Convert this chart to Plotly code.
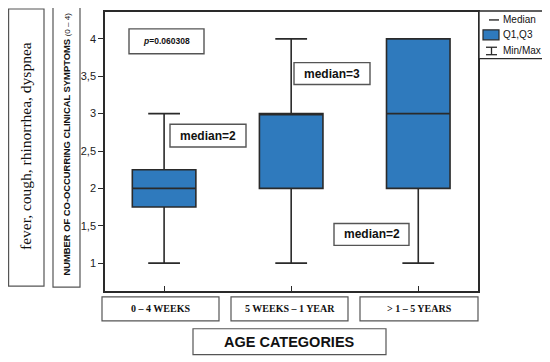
import plotly.graph_objects as go

categories = ["0 – 4 WEEKS", "5 WEEKS – 1 YEAR", "> 1 – 5 YEARS"]
mins = [1, 1, 1]
q1s = [1.75, 2, 2]
medians = [2, 3, 3]
q3s = [2.25, 3, 4]
maxs = [3, 4, 4]
ytick_vals = [1, 1.5, 2, 2.5, 3, 3.5, 4]
ytick_text = ["1", "1,5", "2", "2,5", "3", "3,5", "4"]

# page body has an 8px margin, so the figure is drawn 8px smaller and shifted
OFF = 8
W, H = 550 - OFF, 362 - OFF
L, R, T, B = 105, 478, 10, 291  # reference pixel coordinates of plot area
PW, PH = R - L, B - T

def px(x):
    return (x - L) / PW

def py(y):
    return (B - y) / PH

BLUE = "#2f7abd"
DARK = "#2a2a2a"

fig = go.Figure()
fig.add_trace(go.Box(
    x=list(range(len(categories))),
    q1=q1s, median=medians, q3=q3s,
    lowerfence=mins, upperfence=maxs,
    width=0.5, whiskerwidth=0.5,
    fillcolor=BLUE,
    line=dict(color=DARK, width=1.6),
    boxpoints=False, hoverinfo="skip", showlegend=False,
))

shapes = []
annotations = []

def box(x0, y0, x1, y1, width=1.2, color="#555"):
    shapes.append(dict(type="rect", xref="paper", yref="paper",
                       x0=px(x0), x1=px(x1), y0=py(y1), y1=py(y0),
                       line=dict(color=color, width=width), fillcolor="white", layer="above"))

def text(x, y, s, size, family="Liberation Sans, Arial", angle=0, color="#111"):
    annotations.append(dict(xref="paper", yref="paper", x=px(x), y=py(y), text=s,
                            showarrow=False, xanchor="center", yanchor="middle",
                            textangle=angle, font=dict(size=size, family=family, color=color)))

# left axis title boxes
box(8.6, 7, 44, 286)
text(25.5, 145.5, "fever, cough, rhinorrhea, dyspnea", 15.5, family="Liberation Serif, DejaVu Serif, serif", angle=-90)
box(53, 5, 80, 287)
text(66.5, 143, "<b>NUMBER OF CO-OCCURRING CLINICAL SYMPTOMS</b> <span style='font-size:8px'>(0 – 4)</span>", 9.4, angle=-90)

# category label boxes
cat_boxes = [(102, 219), (231, 348), (360, 478)]
for (x0, x1), c in zip(cat_boxes, categories):
    box(x0, 297, x1, 321)
    text((x0 + x1) / 2, 309, "<b>" + c + "</b>", 10, family="Liberation Serif, DejaVu Serif, serif")

box(193, 329, 386, 355)
text(289.5, 342, "<b>AGE CATEGORIES</b>", 14.5)

# p value box
box(129, 27, 204, 52, width=1.4)
text(166.5, 39.5, "<b><i>p</i>=0.060308</b>", 8.5)

# median labels
box(170, 123, 246, 146, width=1.4)
text(208, 134.5, "<b>median=2</b>", 12)
box(294, 61, 370, 83, width=1.4)
text(332, 72, "<b>median=3</b>", 12)
box(334, 223, 409, 245, width=1.4)
text(371.5, 234, "<b>median=2</b>", 12)

# legend
shapes.append(dict(type="rect", xref="paper", yref="paper",
                   x0=px(479), x1=px(543), y0=py(57), y1=py(9),
                   line=dict(color=DARK, width=1.4), fillcolor="white"))
shapes.append(dict(type="line", xref="paper", yref="paper",
                   x0=px(489), x1=px(499), y0=py(18), y1=py(18), line=dict(color=DARK, width=1.4)))
shapes.append(dict(type="rect", xref="paper", yref="paper",
                   x0=px(483), x1=px(499), y0=py(38), y1=py(28),
                   line=dict(color=DARK, width=1.2), fillcolor=BLUE))
shapes.append(dict(type="line", xref="paper", yref="paper",
                   x0=px(486), x1=px(497), y0=py(45.5), y1=py(45.5), line=dict(color=DARK, width=1.3)))
shapes.append(dict(type="line", xref="paper", yref="paper",
                   x0=px(486), x1=px(497), y0=py(53), y1=py(53), line=dict(color=DARK, width=1.3)))
shapes.append(dict(type="line", xref="paper", yref="paper",
                   x0=px(491.5), x1=px(491.5), y0=py(45.5), y1=py(53), line=dict(color=DARK, width=1.3)))
for yy, s in [(18, "Median"), (33, "Q1,Q3"), (49, "Min/Max")]:
    annotations.append(dict(xref="paper", yref="paper", x=px(501), y=py(yy), text=s,
                            showarrow=False, xanchor="left", yanchor="middle",
                            font=dict(size=10, family="Liberation Sans, Arial", color="#111")))

fig.update_layout(
    width=W, height=H,
    margin=dict(l=L - OFF, r=550 - R, t=T - OFF, b=362 - B, pad=0),
    paper_bgcolor="white", plot_bgcolor="white",
    shapes=shapes, annotations=annotations,
    showlegend=False,
    xaxis=dict(range=[-0.465, 2.47], tickvals=[0, 1, 2], showticklabels=False,
               ticks="inside", ticklen=5, tickwidth=1.3, tickcolor=DARK,
               showline=True, mirror=True, linecolor=DARK, linewidth=1.6,
               showgrid=False, zeroline=False, fixedrange=True),
    yaxis=dict(range=[0.627, 4.36], tickvals=ytick_vals, ticktext=ytick_text,
               ticks="outside", ticklen=5, tickwidth=1.3, tickcolor=DARK,
               tickfont=dict(size=11, family="Liberation Sans, Arial", color="#222"),
               showline=True, mirror=True, linecolor=DARK, linewidth=1.6,
               showgrid=False, zeroline=False, fixedrange=True),
)

fig.write_html("out.html")
